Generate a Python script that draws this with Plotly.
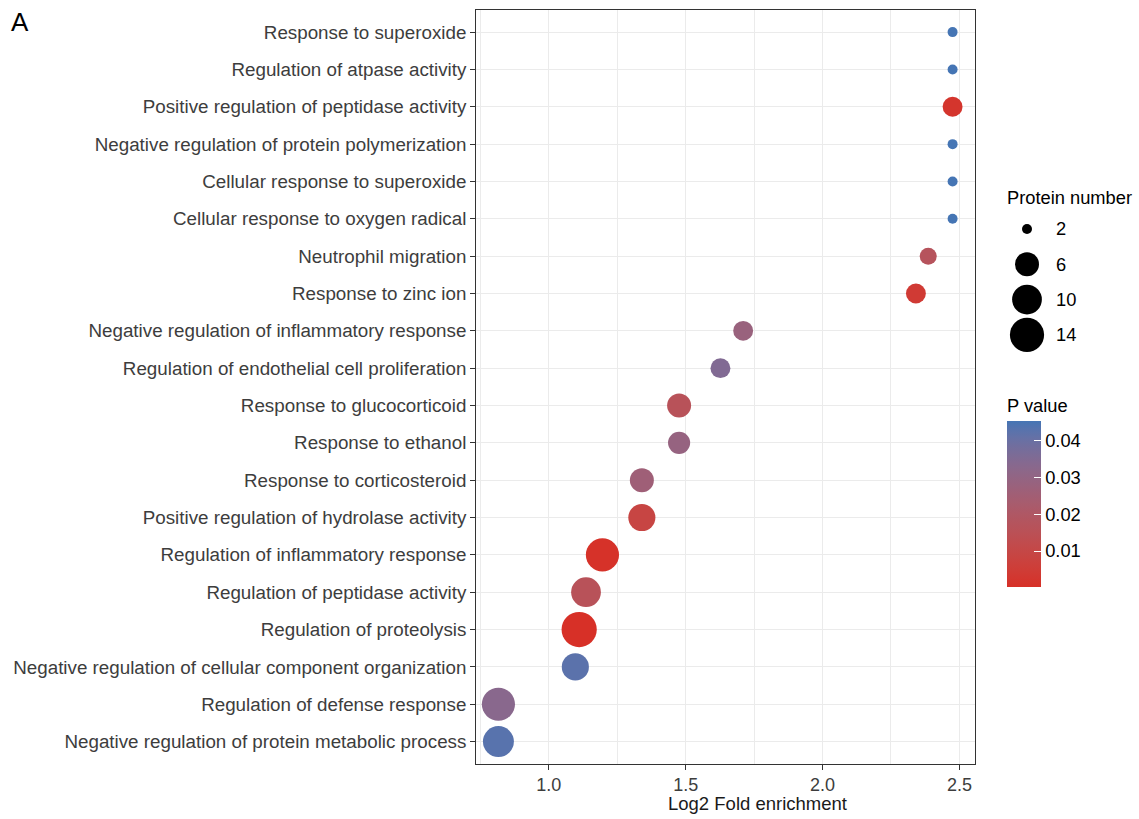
import plotly.graph_objects as go
import numpy as np

# ---------------- data (top to bottom as shown) ----------------
terms = [
    "Response to superoxide",
    "Regulation of atpase activity",
    "Positive regulation of peptidase activity",
    "Negative regulation of protein polymerization",
    "Cellular response to superoxide",
    "Cellular response to oxygen radical",
    "Neutrophil migration",
    "Response to zinc ion",
    "Negative regulation of inflammatory response",
    "Regulation of endothelial cell proliferation",
    "Response to glucocorticoid",
    "Response to ethanol",
    "Response to corticosteroid",
    "Positive regulation of hydrolase activity",
    "Regulation of inflammatory response",
    "Regulation of peptidase activity",
    "Regulation of proteolysis",
    "Negative regulation of cellular component organization",
    "Regulation of defense response",
    "Negative regulation of protein metabolic process",
]
log2_fold = [2.475, 2.475, 2.475, 2.475, 2.475, 2.475, 2.386, 2.341, 1.710, 1.627,
             1.476, 1.476, 1.340, 1.340, 1.196, 1.136, 1.111, 1.097, 0.816, 0.816]
protein_number = [2, 2, 4, 2, 2, 2, 3, 4, 4, 4, 6, 5, 6, 8, 13, 10, 15, 8, 13, 11]
p_value = [0.0454, 0.0454, 0.0020, 0.0454, 0.0454, 0.0454, 0.0170, 0.0040, 0.0280, 0.0350,
           0.0160, 0.0290, 0.0260, 0.0090, 0.0008, 0.0160, 0.0002, 0.0425, 0.0330, 0.0430]

size_breaks = [2, 6, 10, 14]
p_ticks = [0.01, 0.02, 0.03, 0.04]

LOW_COLOR = "#D73027"
HIGH_COLOR = "#4575B4"

# ---------------- helpers (styling) ----------------
def hex_to_rgb(h):
    h = h.lstrip("#")
    return [int(h[i:i + 2], 16) / 255 for i in (0, 2, 4)]

def srgb_to_lin(c):
    return c / 12.92 if c <= 0.04045 else ((c + 0.055) / 1.055) ** 2.4

def lin_to_srgb(c):
    c = max(0.0, min(1.0, c))
    return 12.92 * c if c <= 0.0031308 else 1.055 * c ** (1 / 2.4) - 0.055

WHITE = (0.95047, 1.0, 1.08883)

def rgb_to_lab(rgb):
    r, g, b = [srgb_to_lin(c) for c in rgb]
    x = 0.4124 * r + 0.3576 * g + 0.1805 * b
    y = 0.2126 * r + 0.7152 * g + 0.0722 * b
    z = 0.0193 * r + 0.1192 * g + 0.9505 * b
    def f(t):
        return t ** (1 / 3) if t > 0.008856 else 7.787 * t + 16 / 116
    fx, fy, fz = f(x / WHITE[0]), f(y / WHITE[1]), f(z / WHITE[2])
    return (116 * fy - 16, 500 * (fx - fy), 200 * (fy - fz))

def lab_to_rgb(lab):
    L, a, b = lab
    fy = (L + 16) / 116
    fx = fy + a / 500
    fz = fy - b / 200
    def finv(t):
        return t ** 3 if t ** 3 > 0.008856 else (t - 16 / 116) / 7.787
    x, y, z = finv(fx) * WHITE[0], finv(fy) * WHITE[1], finv(fz) * WHITE[2]
    r = 3.2406 * x - 1.5372 * y - 0.4986 * z
    g = -0.9689 * x + 1.8758 * y + 0.0415 * z
    bb = 0.0557 * x - 0.2040 * y + 1.0570 * z
    return [round(lin_to_srgb(c) * 255) for c in (r, g, bb)]

lab_lo = rgb_to_lab(hex_to_rgb(LOW_COLOR))
lab_hi = rgb_to_lab(hex_to_rgb(HIGH_COLOR))
colorscale = []
for t in np.linspace(0, 1, 21):
    lab = [lab_lo[i] + (lab_hi[i] - lab_lo[i]) * t for i in range(3)]
    r, g, b = lab_to_rgb(lab)
    colorscale.append([float(t), f"rgb({r},{g},{b})"])

vmin, vmax = min(protein_number), max(protein_number)
D_MIN, D_SPAN = 10.0, 25.2

def diameter(v):
    return D_MIN + D_SPAN * np.sqrt((v - vmin) / (vmax - vmin))

# the page body margin is removed (post_script), so the figure fills the window
W, H = 1139, 819
def px_x(p):
    return p / W
def px_y(p):
    return (H - p) / H

FONT = "Liberation Sans, Arial, sans-serif"
TICK_COLOR_TXT = "#3D3D3D"
LEG_SIZE = 18.3

xr = max(log2_fold) - min(log2_fold)
x_range = [min(log2_fold) - 0.05 * xr, max(log2_fold) + 0.05 * xr]

fig = go.Figure()

fig.add_trace(go.Scatter(
    x=log2_fold,
    y=terms,
    mode="markers",
    marker=dict(
        size=[diameter(v) for v in protein_number],
        color=p_value,
        colorscale=colorscale,
        cmin=min(p_value),
        cmax=max(p_value),
        opacity=1,
        line=dict(width=0),
        showscale=True,
        colorbar=dict(
            title=dict(text="P value", side="top", font=dict(size=LEG_SIZE, color="black", family=FONT)),
            tickvals=p_ticks,
            ticktext=[f"{v:.2f}" for v in p_ticks],
            tickfont=dict(size=LEG_SIZE, color="black", family=FONT),
            ticks="inside",
            ticklen=7,
            tickcolor="white",
            tickwidth=1,
            outlinewidth=0,
            thickness=34,
            len=192,
            lenmode="pixels",
            xpad=0,
            ypad=0,
            x=px_x(1007),
            xanchor="left",
            xref="paper",
            y=px_y(587),
            yanchor="bottom",
            yref="paper",
        ),
    ),
    showlegend=False,
    hoverinfo="x+y",
    xaxis="x", yaxis="y",
))

# size legend (protein number)
fig.add_trace(go.Scatter(
    x=[0.5] * len(size_breaks),
    y=size_breaks,
    mode="markers",
    marker=dict(size=[diameter(v) for v in size_breaks], color="#000000", opacity=1,
                line=dict(width=0)),
    showlegend=False,
    hoverinfo="skip",
    xaxis="x2", yaxis="y2",
    cliponaxis=False,
))

annotations = [
    dict(text="A", x=px_x(9), y=px_y(5), xref="paper", yref="paper",
         xanchor="left", yanchor="top", showarrow=False,
         font=dict(size=26, color="black", family=FONT)),
    dict(text="Log2 Fold enrichment", x=px_x(757.8), y=px_y(803.5), xref="paper", yref="paper",
         xanchor="center", yanchor="middle", showarrow=False,
         font=dict(size=18.5, color="#1A1A1A", family=FONT)),
    dict(text="Protein number", x=px_x(1005), y=px_y(197), xref="paper", yref="paper",
         xanchor="left", yanchor="middle", showarrow=False,
         font=dict(size=LEG_SIZE, color="black", family=FONT)),
]
for v in size_breaks:
    annotations.append(dict(text=str(v), x=px_x(1054), y=v, xref="paper", yref="y2",
                            xanchor="left", yanchor="middle", showarrow=False,
                            font=dict(size=LEG_SIZE, color="black", family=FONT)))

fig.update_layout(
    width=W, height=H,
    margin=dict(l=0, r=0, t=0, b=0),
    paper_bgcolor="white",
    plot_bgcolor="white",
    font=dict(family=FONT),
    annotations=annotations,
    xaxis=dict(
        domain=[px_x(475.7), px_x(975.3)],
        range=x_range,
        tickvals=[1.0, 1.5, 2.0, 2.5],
        ticktext=["1.0", "1.5", "2.0", "2.5"],
        tickfont=dict(size=18, color=TICK_COLOR_TXT, family=FONT),
        ticks="outside", ticklen=4.5, tickcolor="#333333", tickwidth=1.1,
        showgrid=True, gridcolor="#EBEBEB", gridwidth=1.4,
        minor=dict(tickvals=[0.75, 1.25, 1.75, 2.25], showgrid=True, gridcolor="#EBEBEB", gridwidth=0.9, ticks=""),
        showline=True, linecolor="#333333", linewidth=1.1, mirror=True,
        zeroline=False, automargin=False,
        anchor="y",
    ),
    yaxis=dict(
        domain=[px_y(764), px_y(9.7)],
        type="category",
        categoryorder="array",
        categoryarray=list(reversed(terms)),
        range=[-0.6, len(terms) - 0.4],
        tickfont=dict(size=18.8, color=TICK_COLOR_TXT, family=FONT),
        ticks="outside", ticklen=4.5, tickcolor="#333333", tickwidth=1.1,
        showgrid=True, gridcolor="#EBEBEB", gridwidth=1.4,
        showline=True, linecolor="#333333", linewidth=1.1, mirror=True,
        zeroline=False, automargin=False,
        anchor="x",
    ),
    xaxis2=dict(
        domain=[px_x(1010), px_x(1044)],
        range=[0, 1],
        visible=False, showgrid=False, zeroline=False, fixedrange=True,
        anchor="y2",
    ),
    yaxis2=dict(
        domain=[px_y(352.5), px_y(211.3)],
        range=[16, 0],
        visible=False, showgrid=False, zeroline=False, fixedrange=True,
        anchor="x2",
    ),
)

fig.write_html(
    "out.html",
    config={"displayModeBar": False},
    post_script="document.body.style.margin='0';document.body.style.overflow='hidden';",
)
